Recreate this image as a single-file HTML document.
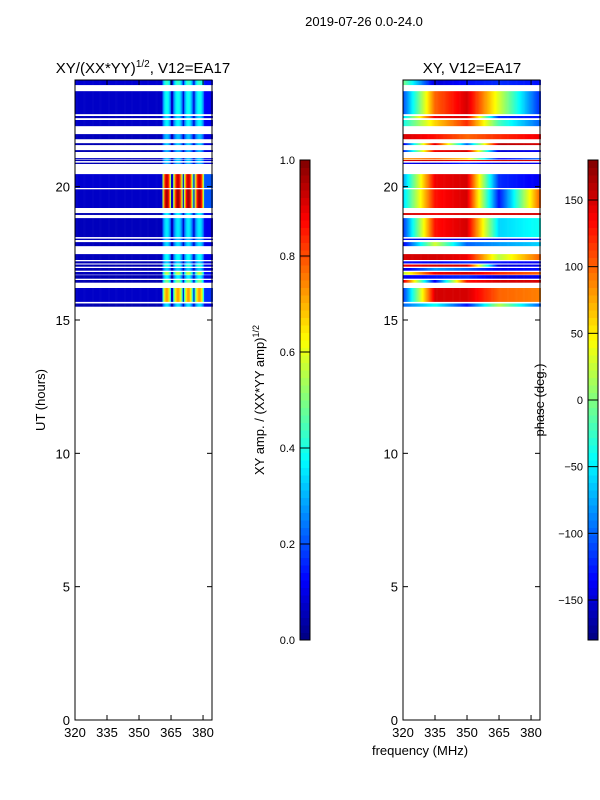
<!DOCTYPE html>
<html><head><meta charset="utf-8">
<style>
html,body{margin:0;padding:0;background:#fff;}
svg{display:block;font-family:"Liberation Sans","DejaVu Sans",sans-serif;}
</style></head>
<body>
<svg id="fig" width="600" height="800" xmlns="http://www.w3.org/2000/svg">
<text x="364" y="26" font-size="13" text-anchor="middle">2019-07-26 0.0-24.0</text>
<text x="143" y="73" font-size="15" text-anchor="middle">XY/(XX*YY)<tspan dy="-6" font-size="10">1/2</tspan><tspan dy="6">, V12=EA17</tspan></text>
<text x="472" y="73" font-size="15" text-anchor="middle">XY, V12=EA17</text>
<g id="left"></g>
<g id="right"></g>
<g id="cb1"></g>
<g id="cb2"></g>
<text transform="translate(45,400) rotate(-90)" font-size="13" text-anchor="middle">UT (hours)</text>
<text transform="translate(264,400) rotate(-90)" font-size="13" text-anchor="middle">XY amp. / (XX*YY amp)<tspan dy="-5" font-size="9">1/2</tspan></text>
<text transform="translate(544,400) rotate(-90)" font-size="13" text-anchor="middle">phase (deg.)</text>
<text x="420" y="755" font-size="13" text-anchor="middle">frequency (MHz)</text>
</svg>
<script>
// ---- data ----
const rowStart=[23.81,22.72,22.57,22.27,21.78,21.56,21.30,21.02,20.96,20.85,19.95,19.20,18.94,18.11,18.00,17.77,17.25,17.12,17.00,16.85,16.70,16.55,16.40,15.68,15.50];
const rowEnd  =[24.00,23.58,22.65,22.50,21.97,21.63,21.37,21.07,21.00,20.90,20.47,19.90,19.01,18.82,18.05,17.92,17.47,17.20,17.08,16.95,16.80,16.68,16.50,16.20,15.62];
const ampBase =[0.08,0.07,0.06,0.07,0.06,0.05,0.05,0.06,0.05,0.05,0.08,0.07,0.05,0.06,0.05,0.06,0.06,0.05,0.05,0.05,0.06,0.05,0.05,0.07,0.05];
const ampHot  =[0.35,0.32,0.28,0.30,0.25,0.28,0.25,0.25,0.28,0.25,0.85,0.90,0.32,0.30,0.25,0.28,0.32,0.28,0.38,0.28,0.50,0.32,0.45,0.65,0.30];
const bandStart=[361,366,371,376];
const bandEnd  =[365,370.5,375.3,380.5];
const phaseFreqs=[320,335,350,365,384];
const phaseRows=[
[0,-150,-130,-120,-130],[-110,100,150,30,-120],[-60,140,150,-120,-130],[-40,60,120,-20,-100],
[150,130,100,120,140],[-150,150,-100,160,150],[-130,140,150,-150,-140],[80,100,60,-140,-100],
[150,150,140,150,150],[-140,-150,-120,-150,-140],[-80,140,150,-120,-140],[-60,130,150,-130,100],
[150,140,150,150,150],[-120,130,150,-60,-40],[-140,-150,-140,-150,-140],[-140,30,-100,-80,-60],
[150,150,140,20,100],[-130,-140,-120,-130,-140],[140,150,150,-150,-140],[-150,-80,-100,-140,-130],
[20,140,150,120,100],[-140,-130,-120,-150,-140],[150,-140,130,150,150],[-120,150,150,100,90],[-100,-40,-130,20,-100]];
const xTicks=[320,335,350,365,380];
const yTicks=[0,5,10,15,20];
const cb1Ticks=[0.0,0.2,0.4,0.6,0.8,1.0];
const cb2Ticks=[-150,-100,-50,0,50,100,150];
// ---- helpers ----
const NS="http://www.w3.org/2000/svg";
function mk(t,a,p){const e=document.createElementNS(NS,t);for(const k in a)e.setAttribute(k,a[k]);p.appendChild(e);return e;}
function jet(v){v=Math.max(0,Math.min(1,v));
 const c=x=>Math.round(255*Math.max(0,Math.min(1,x)));
 const r=c(1.5-Math.abs(4*v-3)),g=c(1.5-Math.abs(4*v-2)),b=c(1.5-Math.abs(4*v-1));
 return `rgb(${r},${g},${b})`;}
const Y0=720,Y1=80,F0=320,F1=384.2;
const yS=h=>Y0-(h/24)*(Y0-Y1);
function colW(f){for(let i=0;i<bandStart.length;i++){if(f>=bandStart[i]&&f<=bandEnd[i]){const m=(bandStart[i]+bandEnd[i])/2,hw=(bandEnd[i]-bandStart[i])/2;return 1-0.6*Math.pow(Math.abs(f-m)/hw,2);}}return f>380.5?0.15:0;}
function phaseAt(r,f){const a=phaseRows[r];for(let i=0;i<phaseFreqs.length-1;i++){if(f<=phaseFreqs[i+1]){const t=(f-phaseFreqs[i])/(phaseFreqs[i+1]-phaseFreqs[i]);return a[i]+(a[i+1]-a[i])*t;}}return a[a.length-1];}
function panel(g,X0,X1,kind){
 const xS=f=>X0+(f-F0)/(F1-F0)*(X1-X0);
 const step=0.5;
 for(let r=0;r<rowStart.length;r++){
  const yt=yS(rowEnd[r]),yb=yS(rowStart[r]);
  for(let f=F0;f<F1;f+=step){
   let col;
   if(kind==='amp'){col=jet(ampBase[r]+ampHot[r]*colW(f+step/2));}
   else{col=jet((phaseAt(r,f+step/2)+180)/360);}
   const c=mk('rect',{x:xS(f).toFixed(2),y:yt.toFixed(2),width:(xS(f+step)-xS(f)+0.3).toFixed(2),height:(yb-yt).toFixed(2),fill:col},g);
   
   
  }
 }
 const fr=mk('rect',{x:X0,y:Y1,width:X1-X0,height:Y0-Y1,fill:'none',stroke:'#000','stroke-width':1},g);
 
 
 xTicks.forEach(t=>{const x=xS(t);
  mk('line',{x1:x,x2:x,y1:Y0,y2:Y0-5,stroke:'#000'},g);mk('line',{x1:x,x2:x,y1:Y1,y2:Y1+5,stroke:'#000'},g);
  const tx=mk('text',{x:x,y:Y0+17,'font-size':13,'text-anchor':'middle'},g);tx.textContent=t;
  
  });
 yTicks.forEach(t=>{const y=yS(t);
  mk('line',{x1:X0,x2:X0+5,y1:y,y2:y,stroke:'#000'},g);mk('line',{x1:X1,x2:X1-5,y1:y,y2:y,stroke:'#000'},g);
  const tx=mk('text',{x:X0-5,y:y+5,'font-size':13,'text-anchor':'end'},g);tx.textContent=t;
  
  });
}
panel(document.getElementById('left'),75,212,'amp');
panel(document.getElementById('right'),403,540,'phase');
function cbar(g,X,vmin,vmax,ticks,labX,fmt){
 const T=160,B=640,W=10,n=64;
 for(let i=0;i<n;i++){const y=B-(i+1)*(B-T)/n;
  mk('rect',{x:X,y:y.toFixed(2),width:W,height:((B-T)/n+0.5).toFixed(2),fill:jet((i+0.5)/n)},g);}
 mk('rect',{x:X,y:T,width:W,height:B-T,fill:'none',stroke:'#000'},g);
 ticks.forEach(t=>{const y=B-(t-vmin)/(vmax-vmin)*(B-T);
  mk('line',{x1:X,x2:X+W,y1:y,y2:y,stroke:'#000'},g);
  const tx=mk('text',{x:labX,y:y+4,'font-size':11,'text-anchor':'end'},g);tx.textContent=fmt(t);
  
  });
}
cbar(document.getElementById('cb1'),300,0,1,cb1Ticks,295,t=>t.toFixed(1));
cbar(document.getElementById('cb2'),588,-180,180,cb2Ticks,583,t=>t<0?'\u2212'+(-t):''+t);
</script>
</body></html>
